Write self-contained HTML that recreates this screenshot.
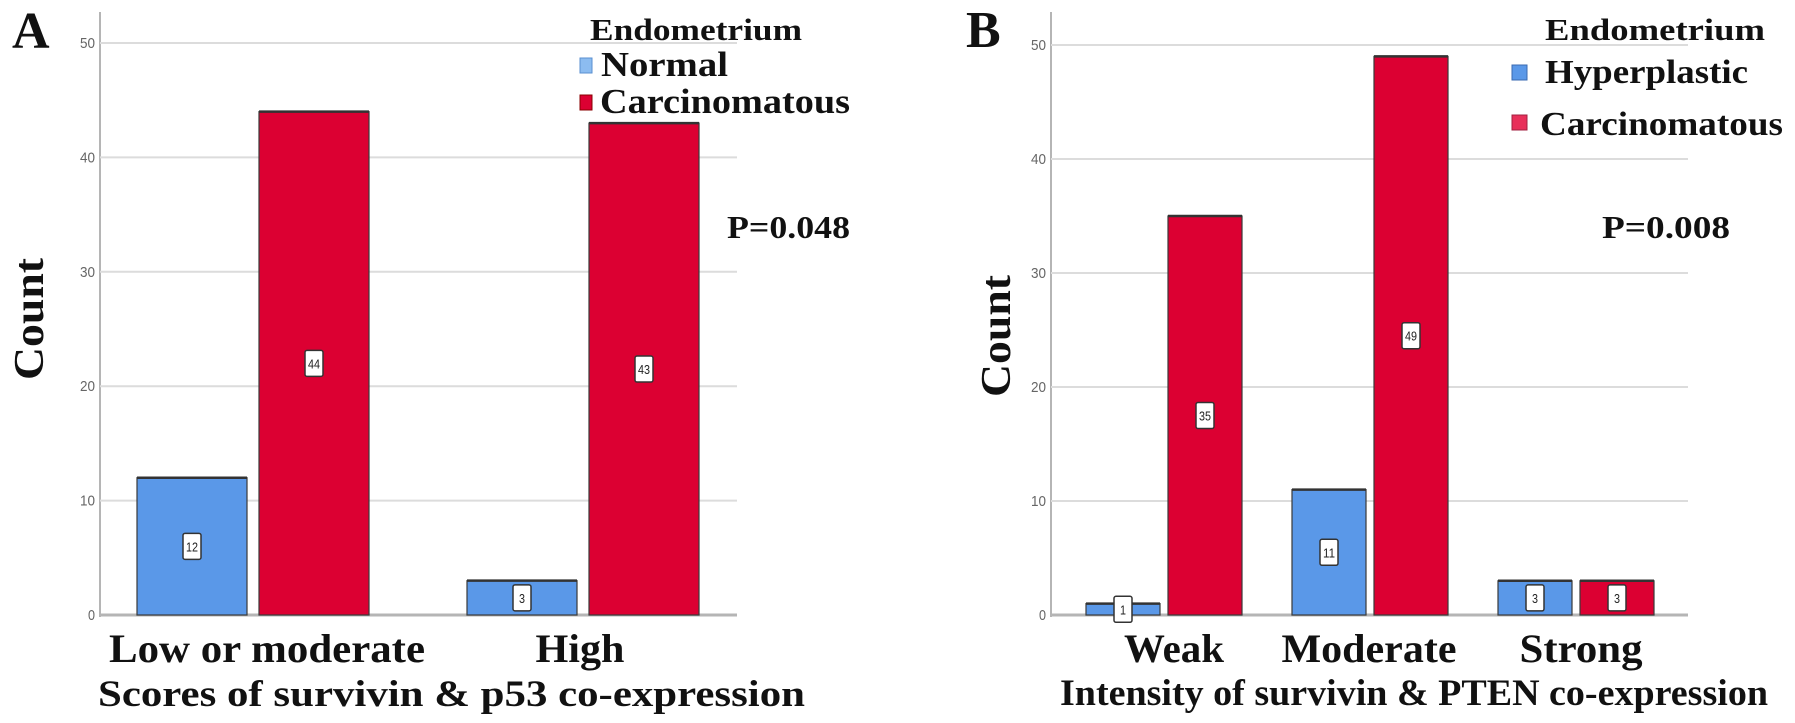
<!DOCTYPE html>
<html><head><meta charset="utf-8"><style>
html,body{margin:0;padding:0;background:#fff;}
svg{display:block;}
text{font-family:"Liberation Serif",serif;font-weight:bold;fill:#111;}
.tick{font-family:"Liberation Sans",sans-serif;font-weight:normal;font-size:15px;fill:#666;}
.val{font-family:"Liberation Sans",sans-serif;font-weight:normal;font-size:13px;fill:#222;}
</style></head><body>
<svg id="chart" width="1795" height="723" viewBox="0 0 1795 723" xmlns="http://www.w3.org/2000/svg">
<text x="12" y="48" font-size="52">A</text>
<text x="966" y="47" font-size="52">B</text>
<g id="pa"></g>
<g id="pb"></g>

<text x="30" y="319" font-size="42" text-anchor="middle" textLength="122" lengthAdjust="spacingAndGlyphs" transform="rotate(-90 30 319)" dominant-baseline="central">Count</text>
<text x="997" y="336" font-size="42" text-anchor="middle" textLength="122" lengthAdjust="spacingAndGlyphs" transform="rotate(-90 997 336)" dominant-baseline="central">Count</text>

<text x="98" y="706" font-size="37" textLength="707" lengthAdjust="spacingAndGlyphs">Scores of survivin &amp; p53 co-expression</text>
<text x="1060" y="705" font-size="37" textLength="708" lengthAdjust="spacingAndGlyphs">Intensity of survivin &amp; PTEN co-expression</text>

<g>
<text x="590" y="40" font-size="31" textLength="212" lengthAdjust="spacingAndGlyphs">Endometrium</text>
<rect x="580" y="58" width="12" height="15" fill="#8cbcf0" stroke="#5a8fd0"/>
<text x="601" y="76" font-size="35" textLength="127" lengthAdjust="spacingAndGlyphs">Normal</text>
<rect x="580" y="95" width="12" height="15" fill="#dc0032" stroke="#800"/>
<text x="600" y="113" font-size="35" textLength="250" lengthAdjust="spacingAndGlyphs">Carcinomatous</text>
</g>
<text x="727" y="238" font-size="32" textLength="123" lengthAdjust="spacingAndGlyphs">P=0.048</text>

<g>
<text x="1545" y="40" font-size="31" textLength="220" lengthAdjust="spacingAndGlyphs">Endometrium</text>
<rect x="1512" y="65" width="15" height="15" fill="#5a98e8" stroke="#3a6ab0"/>
<text x="1545" y="83" font-size="34" textLength="203" lengthAdjust="spacingAndGlyphs">Hyperplastic</text>
<rect x="1512" y="115" width="15" height="15" fill="#e8305a" stroke="#a02040"/>
<text x="1540" y="135" font-size="34" textLength="243" lengthAdjust="spacingAndGlyphs">Carcinomatous</text>
</g>
<text x="1602" y="238" font-size="32" textLength="128" lengthAdjust="spacingAndGlyphs">P=0.008</text>
</svg>
<script>
const yTicks = [0, 10, 20, 30, 40, 50];
const catsA = ["Low or moderate", "High"];
const normalA = [12, 3];
const carcA = [44, 43];
const catsB = ["Weak", "Moderate", "Strong"];
const hyperB = [1, 11, 3];
const carcB = [35, 49, 3];

const NS = "http://www.w3.org/2000/svg";
function mk(tag, attrs, parent) {
  const e = document.createElementNS(NS, tag);
  for (const k in attrs) e.setAttribute(k, attrs[k]);
  parent.appendChild(e);
  return e;
}
function drawPanel(g, cfg, cats, s1, s2, c1, c2) {
  const y = v => cfg.y0 - v * (cfg.y0 - cfg.y50) / 50;
  const xc = i => cfg.c0 + cfg.step * i;
  const ax = mk("line", {x1: cfg.ax, x2: cfg.ax, y1: 12, y2: cfg.y0 + 2, stroke: "#b5b5b5", "stroke-width": 2}, g);
  
  
  yTicks.forEach(t => {
    const gl = mk("line", {x1: cfg.ax, x2: cfg.xe, y1: y(t), y2: y(t), stroke: t === 0 ? "#b5b5b5" : "#dcdcdc", "stroke-width": t === 0 ? 3 : 2}, g);
    
    
    const tl = mk("text", {x: cfg.ax - 5, y: y(t) + 5, "text-anchor": "end", class: "tick", textLength: t === 0 ? 7 : 15, lengthAdjust: "spacingAndGlyphs"}, g);
    tl.textContent = t;
    
    
  });
  cats.forEach((c, i) => {
    [[s1[i], c1, -1], [s2[i], c2, 1]].forEach(([v, col, side]) => {
      const x0 = side < 0 ? xc(i) - cfg.gap / 2 - cfg.bw : xc(i) + cfg.gap / 2;
      const r = mk("rect", {x: x0, y: y(v), width: cfg.bw, height: y(0) - y(v), fill: col, stroke: "#3a3a3a", "stroke-width": 1.2}, g);
      
      
      const tl = mk("line", {x1: x0, x2: x0 + cfg.bw, y1: y(v), y2: y(v), stroke: "#333", "stroke-width": 2.5}, g);
      
      
      const cx = x0 + cfg.bw / 2, cy = y(v / 2);
      const b = mk("rect", {x: cx - 9, y: cy - 13, width: 18, height: 26, fill: "#fff", stroke: "#333", "stroke-width": 1.5, rx: 2}, g);
      
      
      const t = mk("text", {x: cx, y: cy + 5, "text-anchor": "middle", class: "val", textLength: String(v).length > 1 ? 12 : 6, lengthAdjust: "spacingAndGlyphs"}, g);
      t.textContent = v;
      
      
    });
    const cl = mk("text", {x: cfg.lx[i], y: 662, "text-anchor": "middle", "font-size": 40, textLength: cfg.lw[i], lengthAdjust: "spacingAndGlyphs"}, g);
    cl.textContent = c;
    
    
  });
}
drawPanel(document.getElementById("pa"),
  {ax: 100, xe: 737, y0: 615, y50: 43, c0: 253, step: 330, bw: 110, gap: 12, lx: [267, 580], lw: [316, 89]},
  catsA, normalA, carcA, "#5a98e8", "#dc0032");
drawPanel(document.getElementById("pb"),
  {ax: 1051, xe: 1688, y0: 615, y50: 45, c0: 1164, step: 206, bw: 74, gap: 8, lx: [1174, 1369, 1581], lw: [100, 175, 123]},
  catsB, hyperB, carcB, "#5a98e8", "#dc0032");
</script>
</body></html>
